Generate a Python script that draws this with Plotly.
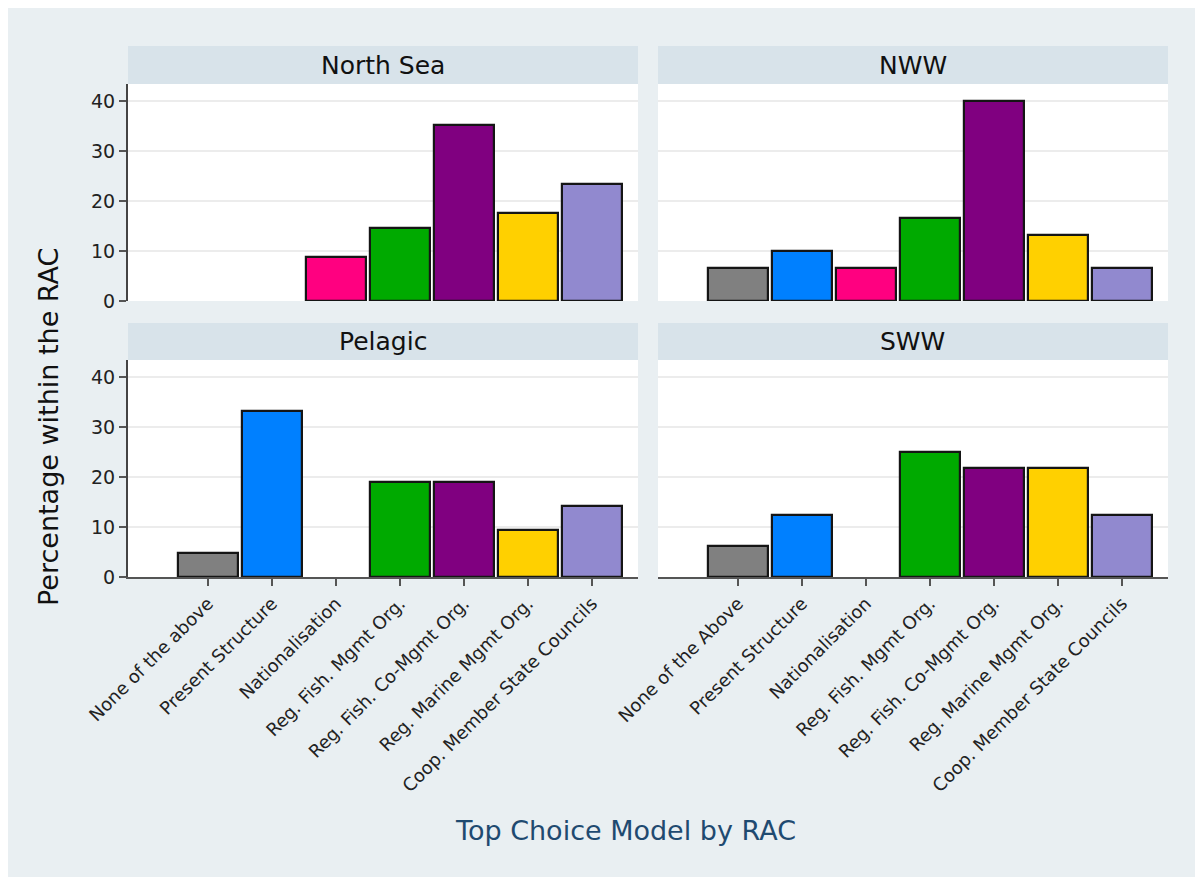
import plotly.graph_objects as go

# page window is 1203x877; the html body has an 8px margin, so the figure is
# placed at (8, 8) and sized to fill the rest of the window
PAGE_W, PAGE_H = 1203, 877
OFF = 8
W, H = PAGE_W - OFF, PAGE_H - OFF

panels = ["North Sea", "NWW", "Pelagic", "SWW"]
labels_left = ["None of the above", "Present Structure", "Nationalisation",
               "Reg. Fish. Mgmt Org.", "Reg. Fish. Co-Mgmt Org.",
               "Reg. Marine Mgmt Org.", "Coop. Member State Councils"]
labels_right = ["None of the Above", "Present Structure", "Nationalisation",
                "Reg. Fish. Mgmt Org.", "Reg. Fish. Co-Mgmt Org.",
                "Reg. Marine Mgmt Org.", "Coop. Member State Councils"]
north_sea = [0, 0, 8.8, 14.7, 35.3, 17.6, 23.5]
nww = [6.7, 10.0, 6.7, 16.7, 40.0, 13.3, 6.7]
pelagic = [4.8, 33.3, 0, 19.0, 19.0, 9.5, 14.3]
sww = [6.25, 12.5, 0, 25.0, 21.9, 21.9, 12.5]
bar_colors = ["#808080", "#0080ff", "#ff0080", "#00aa00", "#800080", "#ffd000", "#9189cf"]
yticks = [0, 10, 20, 30, 40]

BG = "#e9eff2"
STRIP = "#d8e3ea"


def px_x(p):
    return (p - OFF) / W


def px_y(p):
    return 1 - (p - OFF) / H


# panel geometry in page pixels
left_x = (128, 638)
right_x = (658, 1168)
top_plot = (84, 301)
top_strip = (46, 84)
bot_plot = (360, 577)
bot_strip = (323, 360)

data_sets = [north_sea, nww, pelagic, sww]
xdom = [left_x, right_x, left_x, right_x]
ydom = [top_plot, top_plot, bot_plot, bot_plot]
sdom = [top_strip, top_strip, bot_strip, bot_strip]

fig = go.Figure()
xs = list(range(len(labels_left)))
for i, vals in enumerate(data_sets):
    suffix = "" if i == 0 else str(i + 1)
    shown = [v if v > 0 else None for v in vals]
    fig.add_trace(go.Bar(
        x=xs, y=shown, width=0.93,
        marker=dict(color=bar_colors, line=dict(color="#151515", width=2.2)),
        xaxis="x" + suffix, yaxis="y" + suffix, showlegend=False,
    ))

layout = dict(
    width=W, height=H,
    margin=dict(l=0, r=0, t=0, b=0, autoexpand=False),
    paper_bgcolor=BG, plot_bgcolor="white",
    font=dict(family="DejaVu Sans", color="#222"),
    bargap=0,
)
shapes = []
annotations = []
for i in range(4):
    suffix = "" if i == 0 else str(i + 1)
    is_left = i in (0, 2)
    is_bottom = i in (2, 3)
    xd = [px_x(xdom[i][0]), px_x(xdom[i][1])]
    yd = [px_y(ydom[i][1]), px_y(ydom[i][0])]
    layout["xaxis" + suffix] = dict(
        domain=xd, anchor="y" + suffix, range=[-1.25, 6.72], automargin=False,
        tickmode="array", tickvals=xs,
        ticktext=labels_left if is_left else labels_right,
        tickangle=-45, showticklabels=is_bottom,
        ticks="outside" if is_bottom else "", ticklen=7, tickwidth=1.5, tickcolor="#555",
        showline=is_bottom, linecolor="#555", linewidth=2,
        showgrid=False, zeroline=False, fixedrange=True,
        tickfont=dict(size=18, color="#222"),
    )
    layout["yaxis" + suffix] = dict(
        domain=yd, anchor="x" + suffix, range=[0, 43.4], automargin=False,
        tickmode="array", tickvals=yticks, showticklabels=is_left,
        ticks="outside" if is_left else "", ticklen=7, tickwidth=1.5, tickcolor="#555",
        showline=is_left, linecolor="#444", linewidth=2,
        showgrid=True, gridcolor="#ececec", gridwidth=1.5, zeroline=False,
        tickfont=dict(size=19, color="#222"), fixedrange=True,
    )
    s0, s1 = sdom[i]
    shapes.append(dict(type="rect", xref="paper", yref="paper",
                       x0=xd[0], x1=xd[1], y0=px_y(s1), y1=px_y(s0),
                       fillcolor=STRIP, line=dict(width=0)))
    annotations.append(dict(text=panels[i], xref="paper", yref="paper",
                            x=(xd[0] + xd[1]) / 2, y=(px_y(s1) + px_y(s0)) / 2,
                            xanchor="center", yanchor="middle", showarrow=False,
                            font=dict(size=25, color="#111")))

annotations.append(dict(text="Percentage within the RAC", xref="paper", yref="paper",
                        x=px_x(48), y=px_y(427), textangle=-90, showarrow=False,
                        xanchor="center", yanchor="middle",
                        font=dict(size=27, color="#111")))
annotations.append(dict(text="Top Choice Model by RAC", xref="paper", yref="paper",
                        x=px_x(625), y=px_y(830), showarrow=False,
                        xanchor="center", yanchor="middle",
                        font=dict(size=27, color="#1f4a70")))
layout["shapes"] = shapes
layout["annotations"] = annotations
fig.update_layout(**layout)
fig.write_html("out.html")
